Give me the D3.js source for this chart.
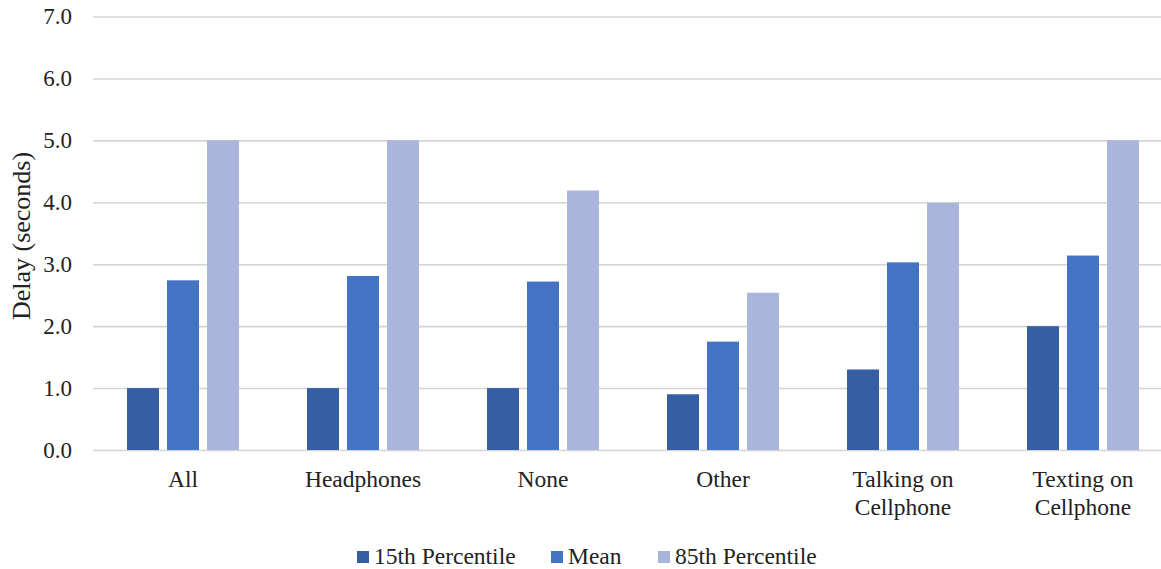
<!DOCTYPE html>
<html><head><meta charset="utf-8">
<script src="https://cdn.jsdelivr.net/npm/d3@7"></script>
<style>html,body{margin:0;padding:0;background:#fff;}svg{display:block;}</style>
</head><body>
<svg id="chart" width="1161" height="569"></svg>
<script>
const categories = ["All", "Headphones", "None", "Other", "Talking on Cellphone", "Texting on Cellphone"];
const categoryLines = [["All"], ["Headphones"], ["None"], ["Other"], ["Talking on", "Cellphone"], ["Texting on", "Cellphone"]];
const seriesNames = ["15th Percentile", "Mean", "85th Percentile"];
const p15 = [1.0, 1.0, 1.0, 0.9, 1.3, 2.0];
const mean = [2.74, 2.81, 2.72, 1.75, 3.03, 3.14];
const p85 = [5.0, 5.0, 4.19, 2.54, 3.99, 5.0];
const yTicks = [0, 1, 2, 3, 4, 5, 6, 7];
const colors = ["#365EA2", "#4472C4", "#A9B5DA"];

(function() {
const FONT = '"Liberation Serif"';
// warm up the font so it is used on first paint
const ctx = document.createElement("canvas").getContext("2d");
ctx.font = `22px ${FONT}, monospace`;
ctx.measureText("Headphones 15th Percentile 7.0 Delay (seconds)");

const seriesValues = [p15, mean, p85];
const svg = d3.select("#chart");
const mLeft = 93, mRight = 1173, mTop = 16.5, mBottom = 450;
const INK = "#222";

const x0 = d3.scaleBand().domain(categories).range([mLeft, mRight]).padding(0);
const x1 = d3.scaleBand().domain(seriesNames).range([34, 146]).paddingInner(0.2).paddingOuter(0);
const y = d3.scaleLinear().domain([0, 7]).range([mBottom, mTop]);

// gridlines + tick labels
const yAxis = d3.axisLeft(y).tickValues(yTicks).tickSize(-(mRight - mLeft)).tickFormat(d3.format(".1f")).tickPadding(21);
const gA = svg.append("g").attr("transform", `translate(${mLeft},0)`).call(yAxis);
gA.attr("font-family", null).attr("font-size", null);
gA.select(".domain").remove();
gA.selectAll(".tick line").attr("stroke", "#d4d4d4").attr("stroke-width", 1.6);
gA.selectAll(".tick text").attr("fill", INK).style("font-family", FONT).style("font-size", "23px");

// bars
const groups = svg.append("g").selectAll("g").data(categories).join("g")
  .attr("transform", d => `translate(${x0(d)},0)`);
groups.selectAll("rect").data((d, i) => seriesNames.map((s, j) => ({s, v: seriesValues[j][i], j})))
  .join("rect")
  .attr("x", d => x1(d.s))
  .attr("width", x1.bandwidth())
  .attr("y", d => y(d.v))
  .attr("height", d => y(0) - y(d.v))
  .attr("fill", d => colors[d.j]);

// category labels
const lab = svg.append("g").selectAll("text").data(categories).join("text")
  .attr("x", d => x0(d) + x0.bandwidth() / 2)
  .attr("y", 487)
  .attr("text-anchor", "middle")
  .attr("fill", INK)
  .style("font-family", FONT).style("font-size", "23.5px");
lab.selectAll("tspan").data((d, i) => categoryLines[i]).join("tspan")
  .attr("x", function() { return d3.select(this.parentNode).attr("x"); })
  .attr("dy", (d, i) => i === 0 ? 0 : 28)
  .text(d => d);

// y label
svg.append("text")
  .attr("transform", `translate(30,236) rotate(-90)`)
  .attr("text-anchor", "middle")
  .attr("fill", INK)
  .style("font-family", FONT).style("font-size", "26px")
  .text("Delay (seconds)");

// legend
const legendX = [357, 551, 658];
const lg = svg.append("g").selectAll("g").data(seriesNames).join("g")
  .attr("transform", (d, i) => `translate(${legendX[i]},0)`);
lg.append("rect").attr("x", 0).attr("y", 551).attr("width", 12).attr("height", 12).attr("fill", (d, i) => colors[i]);
lg.append("text").attr("x", 17).attr("y", 564)
  .attr("fill", INK)
  .style("font-family", FONT).style("font-size", "23.5px")
  .text(d => d);
})();
</script>
</body></html>
